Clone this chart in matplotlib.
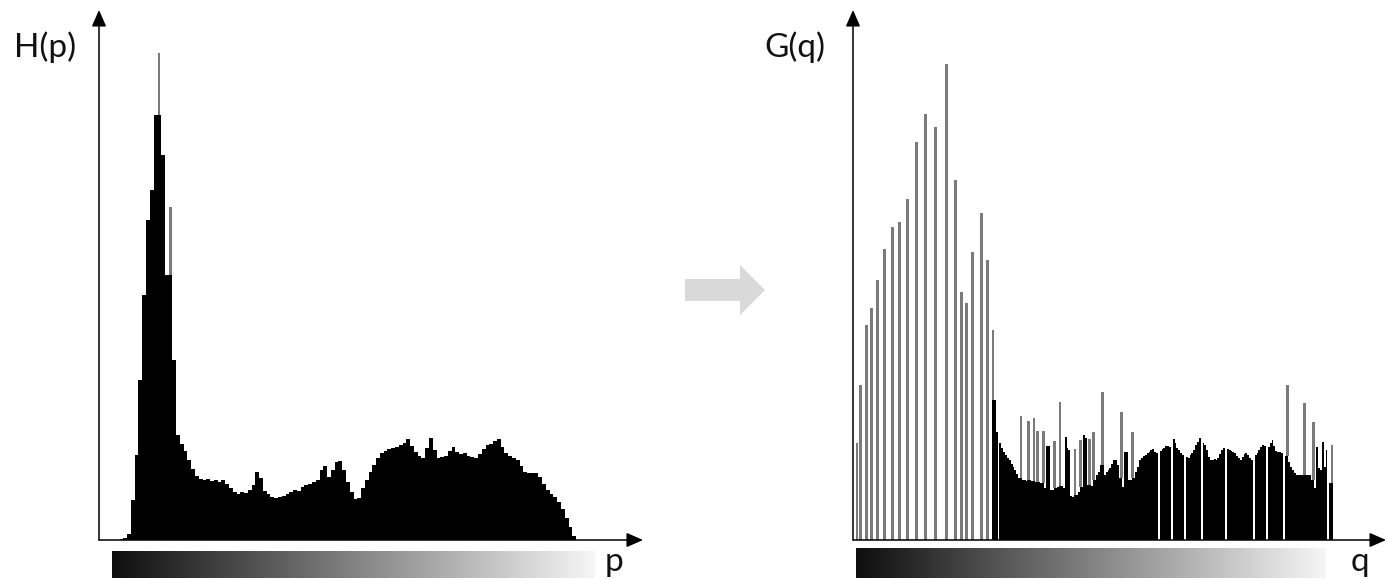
import numpy as np
import matplotlib
matplotlib.use("Agg")
import matplotlib.pyplot as plt
from matplotlib.colors import LinearSegmentedColormap
from matplotlib.patches import Polygon

# ---------------- data ----------------
# H(p): original histogram, 128 bins of 2 grey levels each (0..255)
h_bin_width = 2
h_counts = [
    0, 0, 1, 2, 6, 40, 85, 160, 245, 320,
    350, 425, 487, 385, 265, 333, 180, 105, 96, 89,
    80, 71, 64, 61, 60, 61, 59, 60, 58, 60,
    56, 52, 48, 46, 48, 47, 50, 55, 68, 62,
    49, 46, 43, 42, 43, 44, 46, 48, 50, 49,
    53, 55, 56, 58, 60, 70, 74, 63, 70, 78,
    79, 70, 58, 48, 41, 42, 52, 60, 68, 75,
    82, 87, 89, 91, 92, 93, 95, 97, 101, 94,
    88, 84, 82, 92, 102, 90, 82, 83, 84, 89,
    93, 88, 86, 87, 84, 83, 82, 86, 91, 95,
    96, 99, 101, 93, 87, 84, 82, 80, 74, 68,
    67, 67, 67, 63, 56, 50, 46, 43, 38, 31,
    22, 13, 4, 0, 0, 0, 0, 0,
]

# G(q): equalised histogram, 256 grey levels
g_spike_levels = [0, 2, 5, 8, 11, 15, 19, 23, 27, 32, 37, 42, 48, 53, 56, 59, 62, 67, 70, 73]
g_spike_counts = [97, 155, 215, 232, 260, 291, 313, 318, 341, 398, 426, 413, 476, 360, 248, 237, 288, 327, 280, 210]
g_dense_start = 74
g_dense_counts = [
    140, 108, 0, 97, 92, 88, 85, 82, 80, 76,
    73, 70, 66, 62, 124, 60, 60, 59, 119, 60,
    59, 122, 58, 109, 58, 57, 109, 52, 94, 94,
    50, 50, 99, 52, 53, 138, 54, 52, 103, 92,
    90, 44, 43, 91, 45, 48, 100, 53, 105, 102,
    55, 101, 54, 108, 60, 65, 68, 75, 148, 65,
    68, 70, 72, 76, 80, 80, 75, 62, 128, 53,
    88, 88, 60, 60, 108, 62, 68, 73, 80, 82,
    84, 85, 87, 88, 90, 91, 88, 87, 0, 89,
    91, 92, 94, 94, 93, 0, 101, 97, 92, 90,
    87, 85, 0, 83, 82, 85, 87, 90, 95, 98,
    102, 0, 97, 95, 90, 83, 80, 80, 81, 80,
    82, 86, 90, 92, 0, 91, 90, 89, 88, 87,
    84, 82, 80, 83, 86, 87, 85, 82, 80, 0,
    85, 87, 90, 93, 95, 94, 0, 93, 97, 100,
    94, 89, 88, 88, 87, 0, 84, 155, 78, 73,
    70, 67, 65, 65, 65, 65, 137, 65, 65, 65,
    60, 118, 52, 93, 72, 70, 98, 73, 90, 0,
    57, 95,
]

labels = {"left_y": "H(p)", "left_x": "p", "right_y": "G(q)", "right_x": "q"}

# ---------------- helpers ----------------
def split_spikes(counts, thr=25):
    c = np.asarray(counts, dtype=float)
    left = np.r_[0.0, c[:-1]]
    right = np.r_[c[1:], 0.0]
    nbr = np.maximum(left, right)
    spike = (c - nbr) > thr
    black = np.where(spike, nbr, c)
    gray = c - black
    return black, gray, spike


W, H = 1388, 579
fig = plt.figure(figsize=(W / 100, H / 100), dpi=100)
fig.patch.set_facecolor("white")

grad_cmap = LinearSegmentedColormap.from_list("g", ["#0e0e0e", "#f6f6f6"])
grad = np.linspace(0, 1, 256)[None, :]

arrow_kw = dict(arrowstyle="-|>,head_length=0.5,head_width=0.22", color="black",
                lw=1.1, shrinkA=0, shrinkB=0, mutation_scale=20)

# ---------- overlay (labels, big arrow) in pixel coords ----------
ov = fig.add_axes([0, 0, 1, 1], zorder=0)
ov.set_xlim(0, W)
ov.set_ylim(H, 0)
ov.axis("off")
font = dict(family=["Lato", "DejaVu Sans"], fontsize=24, fontweight="normal", color="#111111")
ov.text(14, 57, labels["left_y"], ha="left", va="baseline", **font)
ov.text(764, 57, labels["right_y"], ha="left", va="baseline", **font)
ov.text(605, 571, labels["left_x"], ha="left", va="baseline", **font)
ov.text(1351, 571, labels["right_x"], ha="left", va="baseline", **font)
ov.add_patch(Polygon([(685, 279), (740, 279), (740, 265), (765, 290),
                      (740, 315), (740, 301), (685, 301)],
                     closed=True, facecolor="#d9d9d9", edgecolor="none"))

# ---------- left panel H(p) ----------
pxl = 483 / 256.0          # pixels per grey level
x0l = 112                  # pixel of level 0
axL = fig.add_axes([99 / W, 0, (643 - 99) / W, 569 / H], zorder=2)
axL.set_facecolor("none")
axL.set_xlim((99 - x0l) / pxl, (643 - x0l) / pxl)
axL.set_ylim(-39, 530)
axL.axis("off")

hb, hg, hs = split_spikes(h_counts)
edges_h = np.arange(len(h_counts) + 1) * h_bin_width
cent_h = edges_h[:-1] + h_bin_width / 2
axL.stairs(hb, edges_h, fill=True, color="black", lw=0)
axL.bar(cent_h[hs], hg[hs], bottom=hb[hs], width=1.2, color="#7a7a7a", lw=0)
axL.imshow(grad, cmap=grad_cmap, extent=(0, 256, -38, -11), aspect="auto", zorder=1)
xl0 = axL.get_xlim()[0]
axL.annotate("", xy=(xl0, 530), xytext=(xl0, 0), arrowprops=arrow_kw, annotation_clip=False)
axL.annotate("", xy=(axL.get_xlim()[1], 0), xytext=(xl0, 0), arrowprops=arrow_kw, annotation_clip=False)

# ---------- right panel G(q) ----------
pxr = 477 / 256.0
x0r = 856
axR = fig.add_axes([853 / W, 0, (W - 853) / W, 569 / H], zorder=2)
axR.set_facecolor("none")
axR.set_xlim((853 - x0r) / pxr, (W - x0r) / pxr)
axR.set_ylim(-39, 530)
axR.axis("off")

G = np.zeros(256)
G[g_spike_levels] = g_spike_counts
G[g_dense_start:g_dense_start + len(g_dense_counts)] = g_dense_counts
gb, gg, gs = split_spikes(G)
edges_g = np.arange(257)
cent_g = edges_g[:-1] + 0.5
axR.stairs(gb, edges_g, fill=True, color="black", lw=0)
axR.bar(cent_g[gs], gg[gs], bottom=gb[gs], width=1.5, color="#7a7a7a", lw=0)
axR.imshow(grad, cmap=grad_cmap, extent=(0, (1325 - x0r) / pxr, -38, -8), aspect="auto", zorder=1)
xr0 = axR.get_xlim()[0]
axR.annotate("", xy=(xr0, 530), xytext=(xr0, 0), arrowprops=arrow_kw, annotation_clip=False)
axR.annotate("", xy=((1386 - x0r) / pxr, 0), xytext=(xr0, 0), arrowprops=arrow_kw, annotation_clip=False)

fig.savefig("out.png", dpi=100, facecolor="white")
